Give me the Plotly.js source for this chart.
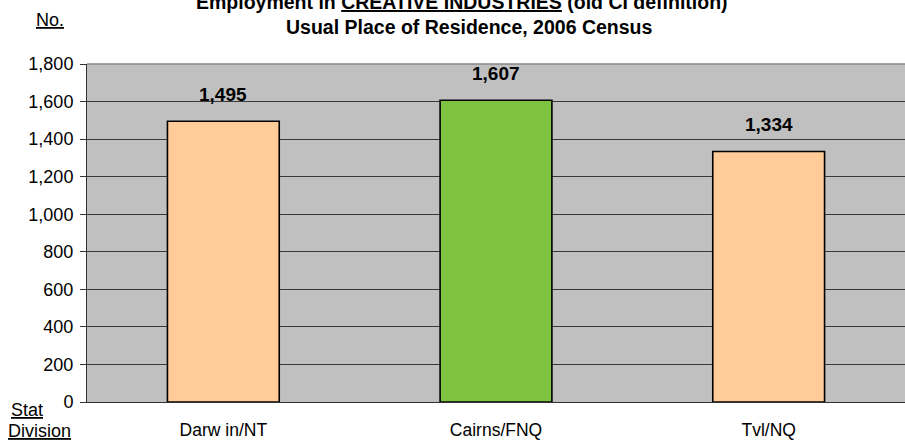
<!DOCTYPE html>
<html>
<head>
<meta charset="utf-8">
<script src="https://cdn.plot.ly/plotly-3.0.1.min.js"></script>
<style>html,body{margin:0;padding:0;overflow:hidden;background:#fff}</style>
</head>
<body>
<div id="chart" style="width:905px;height:443px"></div>
<script>
const categories = ["Darw in/NT", "Cairns/FNQ", "Tvl/NQ"];
const values = [1495, 1607, 1334];
const barColors = ["#FFCC99", "#80C342", "#FFCC99"];
const yTicks = [0, 200, 400, 600, 800, 1000, 1200, 1400, 1600, 1800];
const titleLine1 = "Employment in <u>CREATIVE INDUSTRIES</u> (old CI definition)";
const titleLine2 = "Usual Place of Residence, 2006 Census";

const FONT = "Liberation Sans, Arial, sans-serif";
const NARROW = "Liberation Sans Narrow, Arial Narrow, sans-serif";
const fmt = v => v.toLocaleString("en-US");

const trace = {
  type: "bar",
  x: categories,
  y: values,
  marker: {color: barColors, line: {color: "#000", width: 1.6}},
  hoverinfo: "none"
};

const PL = 87, PW = 818;
const px = x => (x - PL) / PW;

const valueLabels = categories.map((c, i) => ({
  text: "<b>" + fmt(values[i]) + "</b>",
  x: c, y: values[i], xref: "x", yref: "y",
  yshift: 27, xanchor: "center", yanchor: "middle",
  showarrow: false, font: {family: FONT, size: 19, color: "#000"}
}));

const layout = {
  width: 905, height: 443,
  margin: {l: PL, r: 0, t: 64, b: 41},
  paper_bgcolor: "#fff",
  plot_bgcolor: "#C0C0C0",
  bargap: 0.59,
  showlegend: false,
  font: {family: FONT, size: 17, color: "#000"},
  xaxis: {
    type: "category",
    showgrid: false,
    showline: true, linecolor: "#333", linewidth: 1,
    ticks: "", tickfont: {family: FONT, size: 17.5, color: "#000"},
    ticklabelstandoff: 12,
    zeroline: false
  },
  yaxis: {
    range: [0, 1800],
    tickvals: yTicks,
    ticktext: yTicks.map(fmt),
    ticks: "outside", ticklen: 6, tickcolor: "#333",
    ticklabelstandoff: 3,
    showline: true, linecolor: "#333", linewidth: 1,
    gridcolor: "#3a3a3a", gridwidth: 1,
    zeroline: false,
    tickfont: {family: FONT, size: 18, color: "#000"}
  },
  shapes: [
    {type: "line", xref: "paper", yref: "paper", x0: 0, x1: 1, y0: 1, y1: 1, line: {color: "#888", width: 1.5}}
  ],
  annotations: valueLabels.concat([
    {text: "<b>" + titleLine1 + "</b>", xref: "paper", yref: "paper", x: px(462), y: 1, yshift: 62, xanchor: "center", yanchor: "middle", showarrow: false, font: {family: FONT, size: 19.5}},
    {text: "<b>" + titleLine2 + "</b>", xref: "paper", yref: "paper", x: px(469), y: 1, yshift: 37, xanchor: "center", yanchor: "middle", showarrow: false, font: {family: FONT, size: 19.5}},
    {text: "<u>No.</u>", xref: "paper", yref: "paper", x: px(50), y: 1, yshift: 44, xanchor: "center", yanchor: "middle", showarrow: false, font: {family: NARROW, size: 18}},
    {text: "<u>Stat</u>", xref: "paper", yref: "paper", x: px(27), y: 0, yshift: -8, xanchor: "center", yanchor: "middle", showarrow: false, font: {family: NARROW, size: 18}},
    {text: "<u>Division</u>", xref: "paper", yref: "paper", x: px(39), y: 0, yshift: -29, xanchor: "center", yanchor: "middle", showarrow: false, font: {family: NARROW, size: 18}}
  ])
};

Plotly.newPlot("chart", [trace], layout, {staticPlot: true, displayModeBar: false});
</script>
</body>
</html>
